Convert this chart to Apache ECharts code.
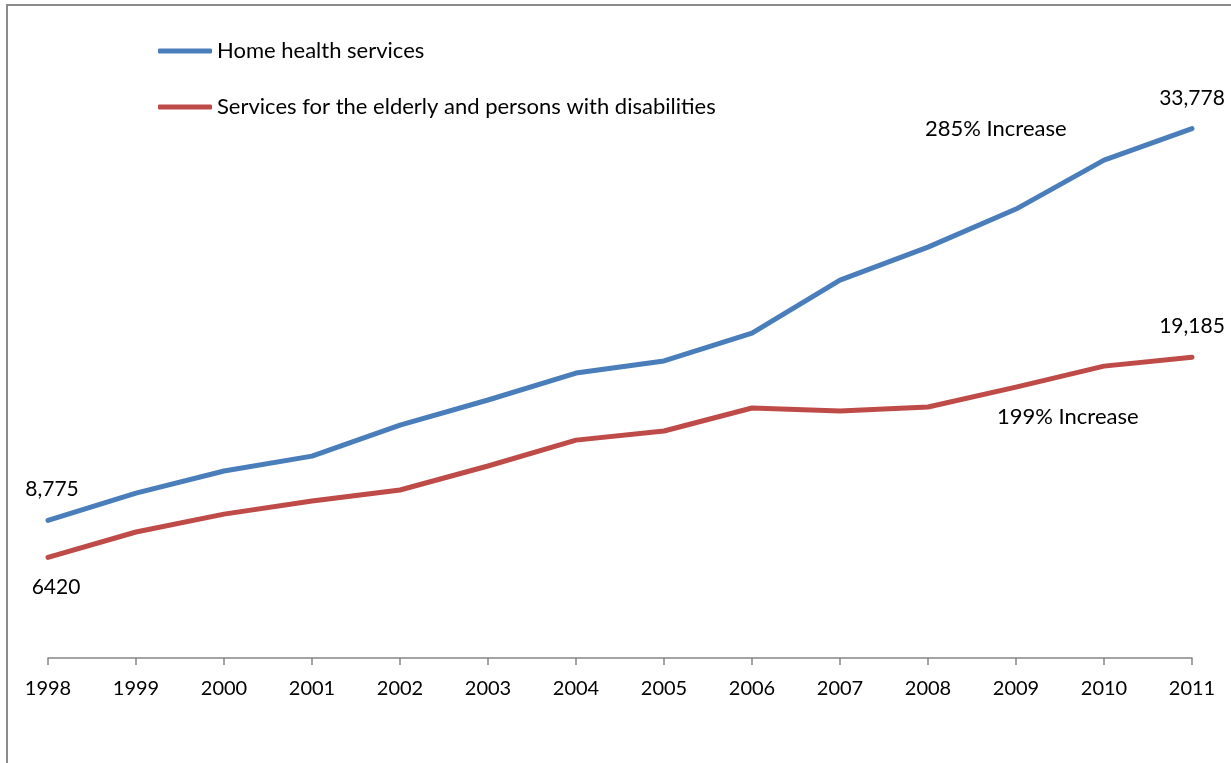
<!DOCTYPE html>
<html>
<head>
<meta charset="utf-8">
<script src="https://cdn.jsdelivr.net/npm/echarts@6/dist/echarts.min.js"></script>
<style>
  html, body { margin: 0; padding: 0; background: #ffffff; }
  #chart { width: 1231px; height: 763px; }
</style>
</head>
<body>
<div id="chart"></div>
<script>
// Years on the category axis
const years = ['1998', '1999', '2000', '2001', '2002', '2003', '2004',
               '2005', '2006', '2007', '2008', '2009', '2010', '2011'];

// Workers per year
const homeHealth = [8775, 10520, 11930, 12880, 14860, 16460, 18180,
                    18950, 20730, 24110, 26210, 28640, 31760, 33778];
const elderlyDisabled = [6420, 8040, 9180, 10010, 10720, 12250, 13900,
                         14480, 15950, 15750, 16010, 17280, 18620, 19185];

const seriesNames = ['Home health services',
                     'Services for the elderly and persons with disabilities'];

const FONT = 'Lato, "Open Sans", sans-serif';
const TEXT = '#000000';
const LEGEND_SIZE = 22;
const VALUE_SIZE = 21;
const AXIS_SIZE = 20;

function pctIncrease(arr) {
  return Math.round((arr[arr.length - 1] / arr[0] - 1) * 100) + '% Increase';
}

// Label only the first and last points of a series
function endLabels(arr, first, firstFmt, last) {
  return arr.map((v, i) => {
    if (i === 0) {
      return { value: v, label: Object.assign({ show: true,
               formatter: p => firstFmt(p.value) }, first) };
    }
    if (i === arr.length - 1) {
      return { value: v, label: Object.assign({ show: true,
               formatter: p => p.value.toLocaleString('en-US') }, last) };
    }
    return v;
  });
}

const chart = echarts.init(document.getElementById('chart'), null, { renderer: 'canvas' });

chart.setOption({
  animation: false,
  backgroundColor: '#ffffff',
  textStyle: { fontFamily: FONT, color: TEXT },
  grid: { left: 48, right: 39, top: 31, bottom: 105, containLabel: false },
  legend: [
    {
      data: [seriesNames[0]], orient: 'vertical', left: 158, top: 40, padding: 0,
      itemWidth: 54, itemHeight: 5, icon: 'roundRect',
      textStyle: { fontFamily: FONT, fontSize: LEGEND_SIZE, color: TEXT }
    },
    {
      data: [seriesNames[1]], orient: 'vertical', left: 158, top: 96, padding: 0,
      itemWidth: 54, itemHeight: 5, icon: 'roundRect',
      textStyle: { fontFamily: FONT, fontSize: LEGEND_SIZE, color: TEXT }
    }
  ],
  xAxis: {
    type: 'category',
    data: years,
    boundaryGap: false,
    axisLine: { show: true, lineStyle: { color: '#868686', width: 1.5 } },
    axisTick: { show: true, length: 7, alignWithLabel: true,
                lineStyle: { color: '#868686', width: 1.5 } },
    axisLabel: { fontFamily: FONT, fontSize: AXIS_SIZE, color: TEXT, margin: 21 },
    splitLine: { show: false }
  },
  yAxis: {
    type: 'value', min: 0, max: 40000, interval: 10000, show: false,
    splitLine: { show: false }
  },
  series: [
    {
      name: seriesNames[0], type: 'line', showSymbol: true, symbol: 'circle', symbolSize: 0.1,
      lineStyle: { color: '#4a7ebb', width: 5, cap: 'round', join: 'round' },
      itemStyle: { color: '#4a7ebb' },
      label: { fontFamily: FONT, fontSize: VALUE_SIZE, color: TEXT },
      data: endLabels(homeHealth,
        { position: 'top', distance: 21, offset: [4, 0] },
        v => v.toLocaleString('en-US'),
        { position: 'top', distance: 20, offset: [0, 0] })
    },
    {
      name: seriesNames[1], type: 'line', showSymbol: true, symbol: 'circle', symbolSize: 0.1,
      lineStyle: { color: '#be4b48', width: 5, cap: 'round', join: 'round' },
      itemStyle: { color: '#be4b48' },
      label: { fontFamily: FONT, fontSize: VALUE_SIZE, color: TEXT },
      data: endLabels(elderlyDisabled,
        { position: 'bottom', distance: 19, offset: [8, 0] },
        v => String(v),
        { position: 'top', distance: 20, offset: [0, 0] })
    }
  ],
  graphic: [
    {
      type: 'rect', silent: true, z: -1,
      shape: { x: 7, y: 5, width: 1400, height: 1000 },
      style: { fill: 'none', stroke: '#8c8c8c', lineWidth: 2 }
    },
    {
      type: 'text', left: 925, top: 118,
      style: { text: pctIncrease(homeHealth), font: LEGEND_SIZE + 'px ' + FONT, fill: TEXT }
    },
    {
      type: 'text', left: 997, top: 406,
      style: { text: pctIncrease(elderlyDisabled), font: LEGEND_SIZE + 'px ' + FONT, fill: TEXT }
    }
  ]
});
</script>
</body>
</html>
